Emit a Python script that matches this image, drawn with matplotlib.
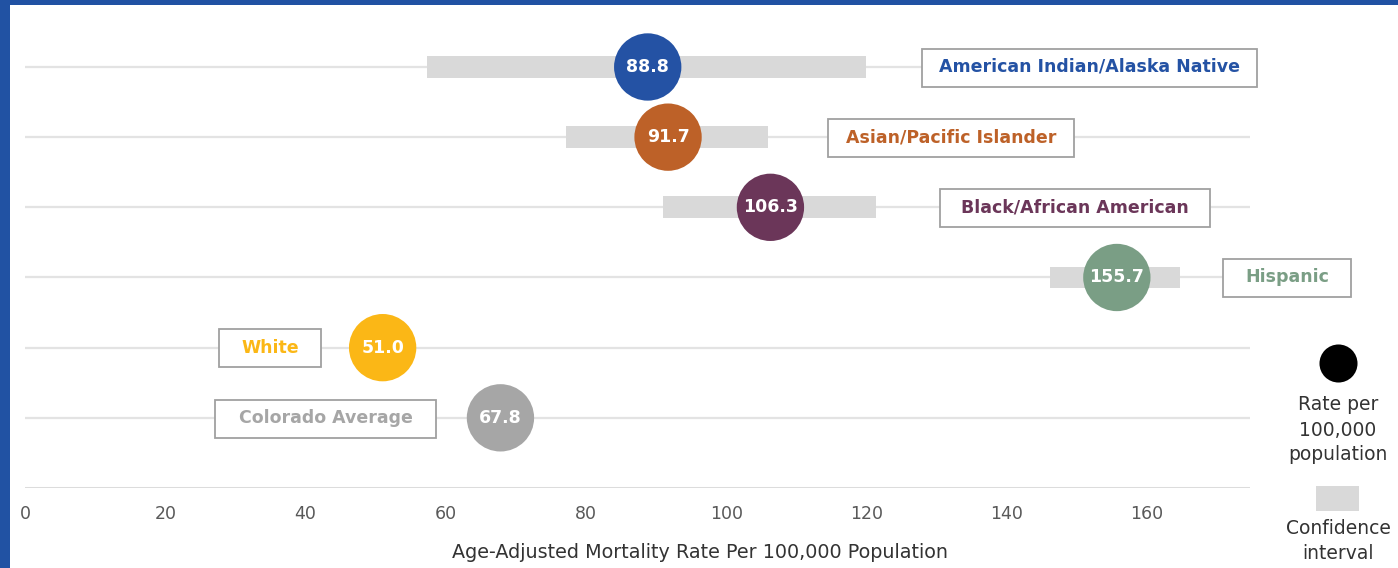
import numpy as np
import matplotlib.pyplot as plt
from matplotlib.patches import Rectangle

groups = ['American Indian/Alaska Native', 'Asian/Pacific Islander', 'Black/African American',
          'Hispanic', 'White', 'Colorado Average']
rates = [88.8, 91.7, 106.3, 155.7, 51.0, 67.8]
ci_low = [57.3, 77.1, 91.0, 146.2, np.nan, np.nan]
ci_high = [119.9, 106.0, 121.4, 164.7, np.nan, np.nan]
colors = ['#2452a4', '#bd6128', '#6b3659', '#7a9e85', '#fbb716', '#a6a6a6']
xticks = [0, 20, 40, 60, 80, 100, 120, 140, 160]

# label box edges in data units
box_left = [127.9, 114.5, 130.5, 170.8, 27.7, 27.1]
box_right = [175.7, 149.6, 169.0, 189.1, 42.2, 58.6]

W, H = 1398, 568
PX = 7.0125  # pixels per data unit
PY = 70.17
fig = plt.figure(figsize=(W / 100, H / 100), dpi=100)
ax = fig.add_axes([25 / W, (H - 488) / H, (1250 - 25) / W, (488 - 5) / H])
ax.set_xlim(0, (1250 - 25) / PX)
ax.set_ylim(0, (488 - 5) / PY)

ypos = np.arange(len(groups), 0, -1)

for y in ypos:
    ax.axhline(y, color='#e3e3e3', lw=1.6, zorder=0)
ax.axhline(0, color='#dcdcdc', lw=2.2, zorder=0)

lo = np.array(ci_low)
hi = np.array(ci_high)
ok = ~np.isnan(lo)
ax.barh(ypos[ok], hi[ok] - lo[ok], left=lo[ok], height=0.31, color='#d9d9d9', zorder=1)

ax.scatter(rates, ypos, s=2350, c=colors, zorder=3, linewidths=0)
for r, y in zip(rates, ypos):
    ax.text(r, y, f'{r:.1f}', color='white', fontsize=12.5, fontweight='bold',
            ha='center', va='center', zorder=4)

bh = 38 / PY
for g, y, l, r, c in zip(groups, ypos, box_left, box_right, colors):
    ax.add_patch(Rectangle((l, y - bh / 2 - 0.01), r - l, bh, fc='white', ec='#a0a0a0',
                           lw=1.3, zorder=4, clip_on=False))
    ax.text((l + r) / 2, y, g, color=c, fontsize=12.5, fontweight='bold', ha='center',
            va='center', zorder=5, clip_on=False)

ax.set_xticks(xticks)
ax.set_xticklabels([str(t) for t in xticks], color='#595959', fontsize=12.5)
ax.tick_params(axis='x', length=0, pad=12)
ax.set_yticks([])
for s in ax.spines.values():
    s.set_visible(False)

fig.text(700 / W, 1 - 552 / H, 'Age-Adjusted Mortality Rate Per 100,000 Population',
         ha='center', va='center', fontsize=13.8, color='#333333')

# legend on the right
lax = fig.add_axes([0, 0, 1, 1], facecolor='none')
lax.set_xlim(0, W)
lax.set_ylim(H, 0)
lax.axis('off')
lax.scatter([1338], [363], s=750, c='black', linewidths=0)
lax.text(1338, 430, 'Rate per\n100,000\npopulation', ha='center', va='center',
         fontsize=13.5, color='#333333', linespacing=1.4)
lax.add_patch(Rectangle((1316, 486), 43, 25, color='#d9d9d9', lw=0))
lax.text(1338, 541, 'Confidence\ninterval', ha='center', va='center',
         fontsize=13.5, color='#333333', linespacing=1.4)

# blue frame
lax.add_patch(Rectangle((0, 0), W, 5, color='#2152a3', lw=0))
lax.add_patch(Rectangle((0, 0), 10, H, color='#2152a3', lw=0))

fig.savefig('out.png', dpi=100)
